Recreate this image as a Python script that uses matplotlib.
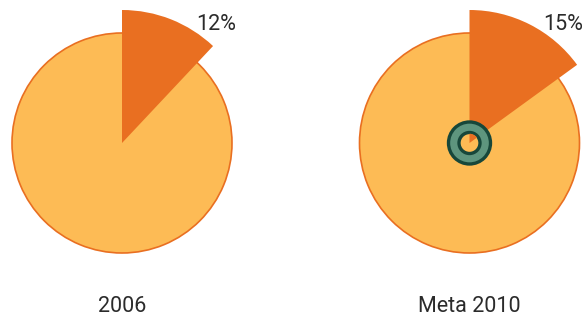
import matplotlib.pyplot as plt
import matplotlib.patches as mpatches

# Share of the highlighted slice for each pie
years = ['2006', 'Meta 2010']
shares = [12, 15]
labels = ['12%', '15%']

base_color = '#FDBB55'
slice_color = '#E96F21'
text_color = '#2b2b2b'

plt.rcParams['font.family'] = ['Roboto', 'DejaVu Sans']

fig = plt.figure(figsize=(5.85, 3.2), dpi=100)
ax = fig.add_axes([0, 0, 1, 1])

centers = [(122, 177), (469.5, 177)]
r_base = 110
r_slice = 133

for (cx, cy), share, lab, year in zip(centers, shares, labels, years):
    # full disc underneath
    ax.pie([100], radius=r_base, center=(cx, cy), colors=[base_color],
           wedgeprops=dict(edgecolor=slice_color, linewidth=1.2))
    # highlighted slice, drawn larger than the disc
    wedges, _ = ax.pie([share, 100 - share], radius=r_slice, center=(cx, cy),
                       startangle=90, counterclock=False,
                       colors=[slice_color, 'none'],
                       wedgeprops=dict(linewidth=0))
    wedges[1].set_visible(False)
    ax.text(cx + 94, cy + 119, lab, ha='center', va='center',
            fontsize=15.5, color=text_color)
    ax.text(cx, 14, year, ha='center', va='center',
            fontsize=15.5, color=text_color)

# target marker on the 2010 pie
cx, cy = centers[1]
ring = plt.Circle((cx, cy), 21, facecolor='#5E957E', edgecolor='#17473A',
                  linewidth=2.4, zorder=5)
ax.add_patch(ring)
# inner part of the ring shows the pie through it
inner = plt.Circle((cx, cy), 10.5, facecolor=base_color, edgecolor='#17473A',
                   linewidth=2.4, zorder=6)
ax.add_patch(inner)
inner_slice = mpatches.Wedge((cx, cy), 9.3, 90 - shares[1] * 3.6, 90,
                             facecolor=slice_color, edgecolor='none', zorder=7)
ax.add_patch(inner_slice)

ax.set_xlim(0, 585)
ax.set_ylim(0, 320)
ax.set_aspect('equal')
ax.axis('off')

fig.savefig('out.png', dpi=100, facecolor='white')
